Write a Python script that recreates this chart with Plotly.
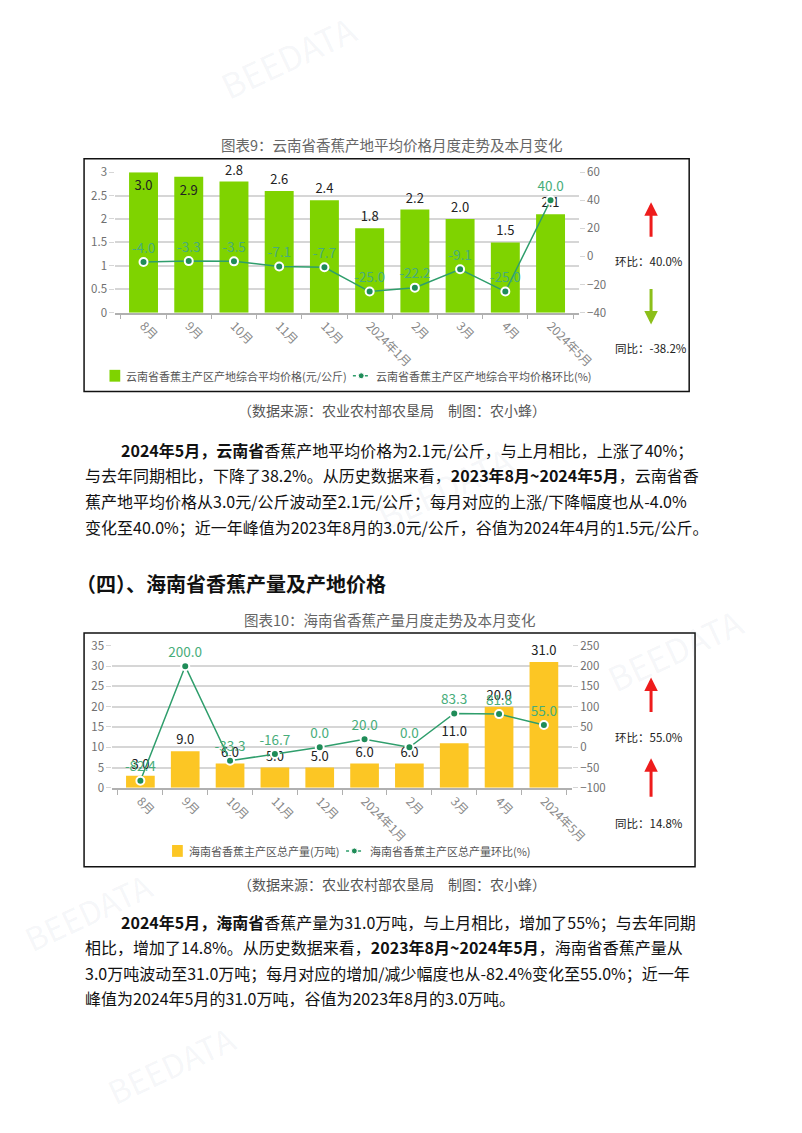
import plotly.graph_objects as go

W, H = 802, 1133
def X(px):
    return px / W
def Y(py):
    return 1 - py / H

FONT = "Noto Sans CJK SC"

# ---------------- data ----------------
months = ["8月", "9月", "10月", "11月", "12月", "2024年1月", "2月", "3月", "4月", "2024年5月"]
yn_price = [3.0, 2.9, 2.8, 2.6, 2.4, 1.8, 2.2, 2.0, 1.5, 2.1]
yn_mom = [-4.0, -3.3, -3.5, -7.1, -7.7, -25.0, -22.2, -9.1, -25.0, 40.0]
yn_mom_latest = 40.0
yn_yoy = -38.2

hn_output = [3.0, 9.0, 6.0, 5.0, 5.0, 6.0, 6.0, 11.0, 20.0, 31.0]
hn_mom = [-82.4, 200.0, -33.3, -16.7, 0.0, 20.0, 0.0, 83.3, 81.8, 55.0]
hn_mom_latest = 55.0
hn_yoy = 14.8

yn_bar_name = "云南省香蕉主产区产地综合平均价格(元/公斤)"
yn_line_name = "云南省香蕉主产区产地综合平均价格环比(%)"
hn_bar_name = "海南省香蕉主产区总产量(万吨)"
hn_line_name = "海南省香蕉主产区总产量环比(%)"

GREEN = "#7fd300"
YELLOW = "#fcc624"
LINE = "#2f9e6c"
LINE_TXT = "#47ad7a"
GRID = "#d6d6d6"
TICK = "#707070"

fig = go.Figure()

# ---------------- chart 1 ----------------
fig.add_trace(go.Bar(
    x=months, y=yn_price, xaxis="x", yaxis="y", name=yn_bar_name,
    marker=dict(color=GREEN, line=dict(width=0)),
    text=[f"{v:.1f}" for v in yn_price],
    textposition=["inside", "inside"] + ["outside"] * (len(yn_price) - 2),
    insidetextanchor="end",
    textfont=dict(size=13, color="#222", family=FONT),
    cliponaxis=False, showlegend=False,
))
fig.add_trace(go.Scatter(
    x=months, y=yn_mom, xaxis="x", yaxis="y2", name=yn_line_name,
    mode="lines+markers+text",
    line=dict(color=LINE, width=1.5),
    marker=dict(size=8, color="#1f8c58", line=dict(color="white", width=2)),
    text=[f"{v:.1f}" for v in yn_mom], textposition="top center",
    textfont=dict(size=13.5, color=LINE_TXT, family=FONT),
    cliponaxis=False, showlegend=False,
))

# ---------------- chart 2 ----------------
fig.add_trace(go.Bar(
    x=months, y=hn_output, xaxis="x2", yaxis="y3", name=hn_bar_name,
    marker=dict(color=YELLOW, line=dict(width=0)),
    text=[f"{v:.1f}" for v in hn_output], textposition="outside",
    textfont=dict(size=13, color="#222", family=FONT),
    cliponaxis=False, showlegend=False,
))
fig.add_trace(go.Scatter(
    x=months, y=hn_mom, xaxis="x2", yaxis="y4", name=hn_line_name,
    mode="lines+markers+text",
    line=dict(color=LINE, width=1.5),
    marker=dict(size=8, color="#1f8c58", line=dict(color="white", width=2)),
    text=[f"{v:.1f}" for v in hn_mom], textposition="top center",
    textfont=dict(size=13.5, color=LINE_TXT, family=FONT),
    cliponaxis=False, showlegend=False,
))

xcommon = dict(type="category", tickangle=45, tickfont=dict(size=12, color="#888", family=FONT),
               showline=True, linecolor="#b0b0b0", linewidth=1.5, ticks="outside", tickson="boundaries",
               ticklen=5, tickcolor="#b0b0b0", showgrid=False, zeroline=False)
ycommon = dict(showgrid=True, gridcolor=GRID, gridwidth=1.5, tickfont=dict(size=11.5, color=TICK, family=FONT),
               ticks="outside", ticklen=5, tickcolor=GRID, zeroline=False, showline=False)
ycommon_r = dict(showgrid=False, tickfont=dict(size=11.5, color=TICK, family=FONT),
                 ticks="outside", ticklen=5, tickcolor=GRID, zeroline=False, showline=False)

fig.update_layout(
    width=W, height=H,
    margin=dict(l=0, r=0, t=0, b=0),
    paper_bgcolor="white", plot_bgcolor="white",
    bargap=0.36,
    font=dict(family=FONT),
    xaxis=dict(domain=[X(118), X(592)], anchor="y", **xcommon),
    yaxis=dict(domain=[Y(308), Y(165.5)], range=[0, 3], dtick=0.5, anchor="x", **ycommon),
    yaxis2=dict(overlaying="y", side="right", range=[-40, 60], dtick=20, anchor="x", **ycommon_r),
    xaxis2=dict(domain=[X(115), X(585)], anchor="y3", **xcommon),
    yaxis3=dict(domain=[Y(790), Y(646)], range=[0, 35], dtick=5, anchor="x2", **ycommon),
    yaxis4=dict(overlaying="y3", side="right", range=[-100, 250], dtick=50, anchor="x2", **ycommon_r),
)

shapes = []
annotations = []

def text(x, y, s, size=16, color="#111", anchor="left", angle=0):
    annotations.append(dict(x=X(x), y=Y(y), xref="paper", yref="paper", text=s, showarrow=False,
                            xanchor=anchor, yanchor="middle", textangle=angle,
                            font=dict(size=size, color=color, family=FONT)))

# watermarks (faint)
wm = "rgba(120,140,160,0.08)"
for (wx, wy, ws, sz) in [(295, 48, "BEEDATA", 34), (455, 485, "BEEDATA", 34), (690, 650, "BEEDATA", 34),
                         (90, 915, "BEEDATA", 32), (175, 1070, "BEEDATA", 32)]:
    text(wx, wy, ws, size=sz, color=wm, anchor="center", angle=-25)

# chart boxes
shapes.append(dict(type="rect", xref="paper", yref="paper", x0=X(86), x1=X(705), y0=Y(388), y1=Y(152),
                   line=dict(color="#111", width=1.5)))
shapes.append(dict(type="rect", xref="paper", yref="paper", x0=X(86), x1=X(711), y0=Y(870), y1=Y(633),
                   line=dict(color="#111", width=1.5)))

# titles / captions
text(401, 137, "图表9：云南省香蕉产地平均价格月度走势及本月变化", size=14.5, color="#666", anchor="center")
text(399, 619, "图表10：海南省香蕉产量月度走势及本月变化", size=14.5, color="#666", anchor="center")
cap = "（数据来源：农业农村部农垦局　制图：农小蜂）"
text(401, 407, cap, size=14, color="#555", anchor="center")
text(401, 888, cap, size=14, color="#555", anchor="center")

# manual legends
def legend(y, sq_x, bar_color, bar_name, ln_x, line_name):
    shapes.append(dict(type="rect", xref="paper", yref="paper", x0=X(sq_x), x1=X(sq_x + 11),
                       y0=Y(y + 6), y1=Y(y - 6), fillcolor=bar_color, line=dict(width=0)))
    text(sq_x + 15, y, bar_name, size=11, color="#555")
    shapes.append(dict(type="line", xref="paper", yref="paper", x0=X(ln_x), x1=X(ln_x + 17),
                       y0=Y(y), y1=Y(y), line=dict(color=LINE, width=1.5, dash="dot")))
    shapes.append(dict(type="circle", xref="paper", yref="paper", x0=X(ln_x + 5.5), x1=X(ln_x + 11.5),
                       y0=Y(y + 3), y1=Y(y - 3), fillcolor="#1f8c58", line=dict(color="white", width=1)))
    text(ln_x + 22, y, line_name, size=11, color="#555")

legend(372, 112, GREEN, yn_bar_name, 361, yn_line_name)
legend(854, 176, YELLOW, hn_bar_name, 354, hn_line_name)

# right-hand change indicators
def arrow(x, y_tip, y_tail, color):
    annotations.append(dict(x=X(x), y=Y(y_tip), xref="paper", yref="paper", ax=0, ay=y_tail - y_tip,
                            text="", showarrow=True, arrowhead=2, arrowsize=0.9, arrowwidth=3,
                            arrowcolor=color, standoff=0))

def indicator(val, top, bottom):
    if val >= 0:
        arrow(666, top, bottom, "#ee1c1c")
    else:
        arrow(666, bottom, top, "#8cbf1a")

indicator(yn_mom_latest, 196, 232)
text(627, 256, f"环比：{yn_mom_latest:.1f}%", size=11.5, color="#222")
indicator(yn_yoy, 283, 320)
text(627, 344, f"同比：{yn_yoy:.1f}%", size=11.5, color="#222")

indicator(hn_mom_latest, 678, 714)
text(627, 738, f"环比：{hn_mom_latest:.1f}%", size=11.5, color="#222")
indicator(hn_yoy, 760, 800)
text(627, 826, f"同比：{hn_yoy:.1f}%", size=11.5, color="#222")

# body text
p1 = [
    (122, "<b>2024年5月，云南省</b>香蕉产地平均价格为2.1元/公斤，与上月相比，上涨了40%；"),
    (85, "与去年同期相比，下降了38.2%。从历史数据来看，<b>2023年8月~2024年5月</b>，云南省香"),
    (85, "蕉产地平均价格从3.0元/公斤波动至2.1元/公斤；每月对应的上涨/下降幅度也从-4.0%"),
    (85, "变化至40.0%；近一年峰值为2023年8月的3.0元/公斤，谷值为2024年4月的1.5元/公斤。"),
]
for i, (x0, s) in enumerate(p1):
    text(x0, 447 + 26 * i, s, size=16, color="#111")

text(76, 583, "<b>（四）、海南省香蕉产量及产地价格</b>", size=20, color="#111")

p2 = [
    (122, "<b>2024年5月，海南省</b>香蕉产量为31.0万吨，与上月相比，增加了55%；与去年同期"),
    (85, "相比，增加了14.8%。从历史数据来看，<b>2023年8月~2024年5月</b>，海南省香蕉产量从"),
    (85, "3.0万吨波动至31.0万吨；每月对应的增加/减少幅度也从-82.4%变化至55.0%；近一年"),
    (85, "峰值为2024年5月的31.0万吨，谷值为2023年8月的3.0万吨。"),
]
for i, (x0, s) in enumerate(p2):
    text(x0, 926 + 25.8 * i, s, size=16, color="#111")

fig.update_layout(shapes=shapes, annotations=annotations)
fig.write_html("out.html")
